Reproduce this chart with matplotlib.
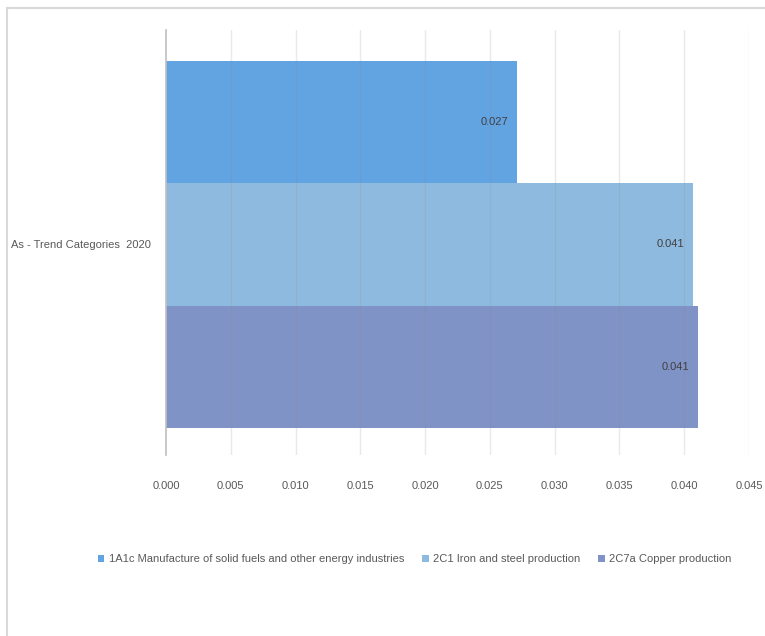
import matplotlib
matplotlib.use("Agg")
import matplotlib.pyplot as plt
from matplotlib.lines import Line2D

category = "As - Trend Categories  2020"
series = ["1A1c Manufacture of solid fuels and other energy industries",
          "2C1 Iron and steel production",
          "2C7a Copper production"]
values = [0.0271, 0.0407, 0.0411]
labels = ["0.027", "0.041", "0.041"]
colors = ["#62a3e2", "#8fbadf", "#8093c6"]
xticks = [0.000, 0.005, 0.010, 0.015, 0.020, 0.025, 0.030, 0.035, 0.040, 0.045]

plt.rcParams['font.family'] = ['Liberation Sans', 'DejaVu Sans']
txt = '#595959'
fs = 8

W, H = 765, 636
fig = plt.figure(figsize=(W / 100, H / 100), dpi=100)
ax = fig.add_axes([166 / W, 1 - 455 / H, (749 - 166) / W, (455 - 30) / H])

# figure frame (top and left edges visible)
fig.add_artist(Line2D([7 / W, 1.01], [1 - 8 / H, 1 - 8 / H], color='#d9d9d9', lw=1.5))
fig.add_artist(Line2D([7 / W, 7 / W], [-0.01, 1 - 8 / H], color='#d9d9d9', lw=1.5))

ypos = [1, 0, -1]
bars = []
for y, v, c, s in zip(ypos, values, colors, series):
    b = ax.barh(y, v, height=1.0, color=c, label=s, zorder=2)
    bars.append(b)

for y, v, lab in zip(ypos, values, labels):
    ax.text(v - 0.0007, y, lab, ha='right', va='center', fontsize=fs, color='#404040', zorder=4)

ax.set_xlim(0, 0.045)
ax.set_ylim(-1.5 - 0.22, 1.5 + 0.25)
ax.set_xticks(xticks)
ax.set_xticklabels(["%.3f" % t for t in xticks], color=txt, fontsize=fs)
ax.set_yticks([0])
ax.set_yticklabels([category], color=txt, fontsize=fs)
ax.tick_params(axis='x', length=0, pad=19)
ax.tick_params(axis='y', length=0, pad=11)

for x in xticks[1:]:
    ax.axvline(x, color='#8a8a8a', alpha=0.18, lw=1, zorder=3)

for sp in ['top', 'right', 'bottom']:
    ax.spines[sp].set_visible(False)
ax.spines['left'].set_color('#bfbfbf')
ax.spines['left'].set_linewidth(1.2)
ax.spines['left'].set_zorder(3)

fig.legend(handles=[b[0] for b in bars], labels=series, loc='center',
           bbox_to_anchor=(0.542, 1 - 559 / H), ncol=3, frameon=False,
           fontsize=fs, handlelength=0.6, handleheight=0.6, handletextpad=0.4,
           columnspacing=1.6, labelcolor=txt)

fig.savefig("out.png", dpi=100)
